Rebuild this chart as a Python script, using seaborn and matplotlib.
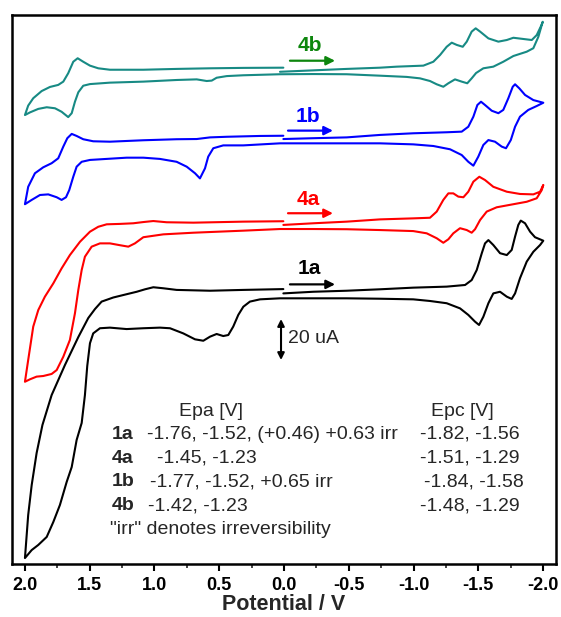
import matplotlib
matplotlib.use('Agg')
import matplotlib.pyplot as plt
from matplotlib.ticker import MultipleLocator
import seaborn as sns
import pandas as pd

# cyclic voltammograms, (potential V, current uA on the stacked scale)
# each list runs: 0 V -> -2 V -> +2 V -> 0 V
cv_4b = [
    (0.031, 240.1), (-0.226, 240.8), (-0.484, 241.5), (-0.741, 242.1), (-0.870, 242.6),
    (-1.076, 243.1), (-1.153, 245.0), (-1.205, 248.3), (-1.256, 252.3), (-1.295, 254.3),
    (-1.334, 253.2), (-1.380, 252.3), (-1.411, 254.8), (-1.449, 259.7), (-1.480, 261.3),
    (-1.514, 259.7), (-1.578, 256.4), (-1.655, 254.8), (-1.720, 255.6), (-1.771, 256.7),
    (-1.848, 256.1), (-1.913, 255.6), (-1.951, 258.0), (-1.982, 262.1), (-1.998, 264.5),
    (-1.990, 262.9), (-1.964, 257.2), (-1.925, 251.6), (-1.874, 249.9), (-1.771, 247.8),
    (-1.693, 245.0), (-1.616, 242.6), (-1.539, 241.8), (-1.483, 239.5), (-1.449, 236.9),
    (-1.415, 234.5), (-1.372, 235.3), (-1.320, 236.4), (-1.269, 234.5), (-1.230, 232.8),
    (-1.179, 234.0), (-1.127, 235.6), (-1.050, 236.9), (-0.947, 237.6), (-0.741, 238.2),
    (-0.484, 238.9), (-0.226, 239.0), (0.031, 238.9),
    (0.314, 238.4), (0.442, 238.0), (0.520, 237.2), (0.558, 235.8), (0.597, 235.6),
    (0.674, 236.4), (0.829, 236.1), (1.086, 235.3), (1.344, 234.8), (1.498, 234.1),
    (1.550, 233.3), (1.588, 230.1), (1.614, 225.5), (1.639, 219.9), (1.666, 218.0),
    (1.717, 220.6), (1.768, 222.3), (1.832, 222.8), (1.897, 222.0), (1.961, 220.3),
    (2.000, 219.0),
    (1.975, 223.6), (1.936, 227.2), (1.871, 230.7), (1.807, 232.7), (1.743, 233.7),
    (1.704, 235.3), (1.666, 239.4), (1.627, 245.0), (1.593, 246.7), (1.550, 245.0),
    (1.498, 243.1), (1.434, 241.8), (1.344, 241.1), (1.086, 241.1), (0.829, 241.5),
    (0.571, 241.8), (0.314, 242.0), (0.005, 242.1),
]

cv_1b = [
    (0.005, 207.3), (-0.226, 207.7), (-0.484, 208.1), (-0.741, 209.3), (-0.998, 210.1),
    (-1.256, 210.6), (-1.372, 210.9), (-1.423, 213.3), (-1.462, 218.2), (-1.493, 223.9),
    (-1.521, 225.5), (-1.552, 223.9), (-1.604, 221.1), (-1.655, 219.9), (-1.693, 221.5),
    (-1.732, 227.2), (-1.766, 232.8), (-1.784, 234.0), (-1.817, 232.0), (-1.861, 228.8),
    (-1.925, 226.3), (-2.002, 225.0),
    (-1.951, 223.4), (-1.886, 221.5), (-1.822, 218.2), (-1.784, 213.3), (-1.751, 206.8),
    (-1.714, 202.8), (-1.681, 203.6), (-1.629, 206.0), (-1.578, 206.8), (-1.539, 204.4),
    (-1.500, 198.7), (-1.462, 194.3), (-1.423, 196.2), (-1.372, 199.5), (-1.282, 202.3),
    (-1.153, 203.9), (-0.998, 204.7), (-0.741, 205.2), (-0.226, 205.2), (0.031, 205.2),
    (0.314, 204.2), (0.469, 204.2), (0.546, 202.8), (0.585, 198.7), (0.610, 193.0),
    (0.649, 188.1), (0.687, 190.6), (0.751, 193.8), (0.829, 196.2), (0.958, 197.6),
    (1.086, 198.2), (1.215, 198.2), (1.344, 197.7), (1.498, 197.1), (1.562, 196.2),
    (1.601, 193.8), (1.627, 188.9), (1.658, 182.4), (1.683, 178.9), (1.717, 177.6),
    (1.755, 178.9), (1.820, 180.3), (1.884, 180.0), (1.948, 177.6), (2.000, 175.5),
    (1.975, 184.0), (1.923, 190.6), (1.859, 193.5), (1.794, 195.5), (1.743, 197.9),
    (1.704, 203.6), (1.673, 207.7), (1.639, 209.8), (1.601, 208.8), (1.550, 207.2),
    (1.473, 206.2), (1.344, 206.0), (1.086, 206.7), (0.829, 207.2), (0.674, 207.3),
    (0.571, 208.1), (0.442, 208.4), (0.185, 208.8), (0.005, 208.9),
]

cv_4a = [
    (0.005, 165.4), (-0.226, 166.2), (-0.484, 167.0), (-0.741, 168.1), (-0.998, 168.6),
    (-1.127, 168.9), (-1.179, 171.9), (-1.230, 177.6), (-1.269, 180.8), (-1.307, 180.8),
    (-1.346, 179.2), (-1.385, 178.9), (-1.423, 181.6), (-1.462, 186.5), (-1.508, 188.9),
    (-1.552, 187.3), (-1.616, 184.0), (-1.720, 181.6), (-1.822, 180.5), (-1.925, 180.3),
    (-1.977, 181.6), (-2.002, 184.9),
    (-1.990, 182.4), (-1.951, 178.4), (-1.874, 176.7), (-1.771, 175.5), (-1.642, 174.0),
    (-1.565, 171.9), (-1.514, 167.8), (-1.475, 163.3), (-1.449, 161.6), (-1.411, 162.9),
    (-1.359, 163.8), (-1.307, 161.3), (-1.269, 158.4), (-1.230, 156.7), (-1.179, 158.9),
    (-1.102, 161.3), (-0.998, 162.4), (-0.741, 162.9), (-0.484, 163.3), (-0.226, 163.4),
    (0.031, 163.4),
    (0.314, 162.6), (0.700, 161.6), (0.932, 160.8), (1.086, 159.4), (1.151, 156.4),
    (1.202, 154.8), (1.266, 155.5), (1.344, 156.4), (1.421, 156.4), (1.485, 154.8),
    (1.537, 149.9), (1.562, 143.4), (1.588, 133.7), (1.614, 122.3), (1.653, 109.3),
    (1.704, 101.1), (1.755, 94.6), (1.794, 92.7), (1.859, 91.7), (1.910, 91.4),
    (1.961, 90.1), (2.000, 88.9),
    (1.975, 99.5), (1.936, 115.8), (1.897, 123.9), (1.846, 130.4), (1.781, 136.9),
    (1.717, 144.2), (1.653, 150.7), (1.575, 157.2), (1.498, 162.1), (1.434, 164.5),
    (1.369, 165.7), (1.266, 165.9), (1.164, 166.2), (1.086, 166.8), (1.009, 167.3),
    (0.906, 166.7), (0.700, 166.5), (0.314, 167.0), (0.005, 167.2),
]

cv_1a = [
    (0.005, 132.0), (-0.226, 132.8), (-0.484, 133.3), (-0.741, 134.0), (-0.998, 134.8),
    (-1.256, 135.3), (-1.398, 136.1), (-1.449, 138.5), (-1.488, 143.4), (-1.527, 151.6),
    (-1.552, 156.4), (-1.578, 158.0), (-1.616, 155.6), (-1.668, 151.6), (-1.720, 150.7),
    (-1.758, 153.2), (-1.784, 159.7), (-1.809, 165.4), (-1.828, 167.5), (-1.861, 166.2),
    (-1.900, 162.1), (-1.938, 159.4), (-2.002, 157.7),
    (-1.977, 155.6), (-1.925, 152.3), (-1.874, 147.5), (-1.822, 139.4), (-1.784, 132.0),
    (-1.758, 129.3), (-1.720, 130.4), (-1.668, 132.8), (-1.616, 132.0), (-1.578, 127.2),
    (-1.539, 120.6), (-1.506, 116.6), (-1.475, 118.2), (-1.423, 121.5), (-1.359, 124.7),
    (-1.256, 127.2), (-1.127, 128.3), (-0.998, 129.1), (-0.741, 129.4), (-0.484, 129.6),
    (-0.226, 129.6), (0.031, 129.6),
    (0.185, 129.1), (0.263, 128.0), (0.314, 125.5), (0.353, 121.5), (0.392, 115.8),
    (0.430, 111.7), (0.469, 111.2), (0.520, 112.2), (0.571, 110.9), (0.623, 108.9),
    (0.687, 109.6), (0.778, 112.5), (0.880, 115.0), (0.958, 115.3), (1.086, 115.0),
    (1.215, 114.6), (1.344, 115.3), (1.421, 115.0), (1.473, 112.5), (1.498, 107.7),
    (1.519, 96.6), (1.537, 82.4), (1.562, 68.8), (1.601, 60.5), (1.639, 47.3),
    (1.678, 40.0), (1.730, 28.8), (1.781, 20.5), (1.832, 13.2), (1.897, 9.3),
    (1.948, 6.8), (2.000, 2.9),
    (1.975, 23.9), (1.948, 38.5), (1.910, 54.1), (1.865, 67.8), (1.794, 82.4),
    (1.691, 97.1), (1.588, 110.7), (1.511, 120.0), (1.459, 124.4), (1.408, 128.0),
    (1.318, 130.0), (1.215, 131.6), (1.137, 132.8), (1.073, 134.0), (1.009, 135.0),
    (0.932, 134.5), (0.829, 133.7), (0.571, 133.3), (0.314, 133.7), (0.005, 134.1),
]

compounds = ['1a', '4a', '1b', '4b']
epa_values = ['-1.76, -1.52, (+0.46) +0.63 irr', '-1.45, -1.23',
              '-1.77, -1.52, +0.65 irr', '-1.42, -1.23']
epc_values = ['-1.82, -1.56', '-1.51, -1.29', '-1.84, -1.58', '-1.48, -1.29']
tick_vals = [2.0, 1.5, 1.0, 0.5, 0.0, -0.5, -1.0, -1.5, -2.0]
tick_labels = ['2.0', '1.5', '1.0', '0.5', '0.0', '-0.5', '-1.0', '-1.5', '-2.0']

curve_colors = {'1a': 'black', '4a': '#ff0000', '1b': '#0000ff', '4b': '#178a84'}
label_colors = {'1a': 'black', '4a': '#ff0000', '1b': '#0000ff', '4b': '#0d860d'}

sns.set_style('white')
plt.rcParams['font.family'] = ['Liberation Sans', 'DejaVu Sans']

fig = plt.figure(figsize=(5.61, 6.17), dpi=100)
ax = fig.add_axes([12 / 561, 1 - 564 / 617, 544 / 561, 549 / 617])

for name, pts in [('1a', cv_1a), ('4a', cv_4a), ('1b', cv_1b), ('4b', cv_4b)]:
    df = pd.DataFrame(pts, columns=['E', 'I'])
    sns.lineplot(data=df, x='E', y='I', sort=False, estimator=None,
                 color=curve_colors[name], lw=1.5, ax=ax)
for ln in ax.lines:
    ln.set_solid_joinstyle('round')
    ln.set_solid_capstyle('round')

ax.set_xlim(2.1, -2.1)
ax.set_ylim(0, 267.8)
ax.set_xticks(tick_vals)
ax.set_xticklabels(tick_labels, fontweight='bold', fontsize=13)
ax.xaxis.set_minor_locator(MultipleLocator(0.25))
ax.set_yticks([])
ax.tick_params(axis='x', which='major', direction='out', length=5, width=1.5,
               bottom=True, top=False, pad=4, colors='black')
ax.tick_params(axis='x', which='minor', direction='out', length=3, width=1.2,
               bottom=True, top=False)
for sp in ax.spines.values():
    sp.set_linewidth(1.8)
    sp.set_color('black')
ax.set_xlabel('Potential / V', fontsize=15.5, fontweight='bold', labelpad=0)
ax.set_ylabel('')

# scan direction arrows and labels
arrows = {'4b': (-0.046, -0.394, 245.5, -0.201, 252.7),
          '1b': (-0.031, -0.378, 211.4, -0.185, 218.5),
          '4a': (-0.031, -0.378, 171.1, -0.185, 177.6),
          '1a': (-0.046, -0.394, 136.4, -0.193, 143.9)}
for name, (x0, x1, y, lx, ly) in arrows.items():
    c = label_colors[name]
    ax.annotate('', xy=(x1, y), xytext=(x0, y),
                arrowprops=dict(arrowstyle='-|>', color=c, lw=1.6,
                                mutation_scale=13, shrinkA=0, shrinkB=0))
    ax.text(lx, ly, name, color=c, fontsize=15, fontweight='bold',
            ha='center', va='center')

# 20 uA scale bar
ax.annotate('', xy=(0.023, 119.5), xytext=(0.023, 99.5),
            arrowprops=dict(arrowstyle='<|-|>', color='black', lw=1.5,
                            mutation_scale=10, shrinkA=0, shrinkB=0))
ax.text(-0.031, 110.2, '20 uA', fontsize=14, ha='left', va='center')

# peak table
fs = 14
ax.text(0.564, 74.3, 'Epa [V]', fontsize=fs, ha='center', va='center')
ax.text(-1.375, 74.3, 'Epc [V]', fontsize=fs, ha='center', va='center')
row_y = [63.2, 51.6, 40.1, 28.3]
epa_x = [1.060, 0.983, 1.035, 1.050]
epc_x = [-1.050, -1.050, -1.081, -1.050]
for k, name in enumerate(compounds):
    ax.text(1.328, row_y[k], name, fontsize=fs, fontweight='bold', ha='left', va='center')
    ax.text(epa_x[k], row_y[k], epa_values[k], fontsize=fs, ha='left', va='center')
    ax.text(epc_x[k], row_y[k], epc_values[k], fontsize=fs, ha='left', va='center')
ax.text(1.344, 16.9, '"irr" denotes irreversibility', fontsize=fs, ha='left', va='center')

fig.savefig('out.png', dpi=100)
